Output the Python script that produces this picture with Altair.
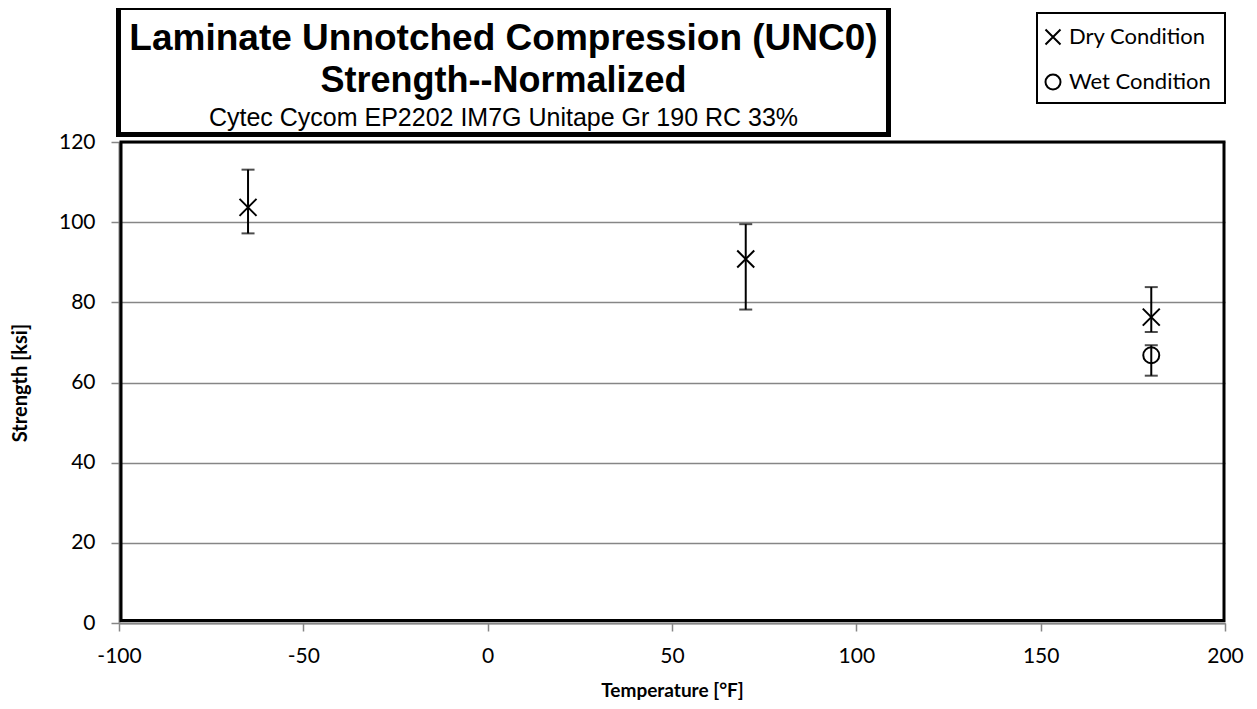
import altair as alt
import pandas as pd

# ---- data ----
dry_temp = [-65, 70, 180]
dry_strength = [103.7, 90.8, 76.3]
dry_low = [97.2, 78.2, 72.6]
dry_high = [113.1, 99.5, 83.8]

wet_temp = [180]
wet_strength = [66.8]
wet_low = [61.7]
wet_high = [69.3]

x_ticks = [-100, -50, 0, 50, 100, 150, 200]
y_ticks = [0, 20, 40, 60, 80, 100, 120]

title_lines = ["Laminate Unnotched Compression (UNC0)", "Strength--Normalized"]
subtitle = "Cytec Cycom EP2202 IM7G Unitape Gr 190 RC 33%"
legend_labels = ["Dry Condition", "Wet Condition"]

rows = []
for t, s, lo, hi in zip(dry_temp, dry_strength, dry_low, dry_high):
    rows.append({"temp": t, "strength": s, "low": lo, "high": hi, "cond": "Dry"})
for t, s, lo, hi in zip(wet_temp, wet_strength, wet_low, wet_high):
    rows.append({"temp": t, "strength": s, "low": lo, "high": hi, "cond": "Wet"})
df = pd.DataFrame(rows)

W, H = 1106, 481
GRAY = "#868686"
LABEL_FONT = "Lato"
TITLE_FONT = "Liberation Sans"

xscale = alt.Scale(domain=[-100, 200], nice=False, zero=False)
yscale = alt.Scale(domain=[0, 120], nice=False)

xenc = alt.X("temp:Q", scale=xscale, axis=alt.Axis(
    values=x_ticks, labelExpr="'' + datum.value", grid=False, labelFlush=False,
    title="Temperature [°F]", titleFont=LABEL_FONT, titleFontSize=19, titleFontWeight="bold",
    titleX=W / 2, titleY=67, titleBaseline="middle", titleAnchor="middle",
    labelFont=LABEL_FONT, labelFontSize=21, labelColor="black", labelPadding=14,
    tickSize=8, tickColor=GRAY, tickWidth=1.5, domainColor=GRAY, domainWidth=2,
    titleColor="black"))
yenc = alt.Y("strength:Q", scale=yscale, axis=alt.Axis(
    values=y_ticks, grid=True, gridColor=GRAY, gridWidth=1.5, labelFlush=False,
    title="Strength [ksi]", titleFont=LABEL_FONT, titleFontSize=20, titleFontWeight="bold",
    titleX=-99, titleY=H / 2, titleAngle=-90, titleBaseline="middle", titleAlign="center",
    labelFont=LABEL_FONT, labelFontSize=21, labelColor="black", labelPadding=16,
    tickSize=8, tickColor=GRAY, tickWidth=1.5, domainColor=GRAY, domainWidth=2,
    titleColor="black"))

base = alt.Chart(df)

bars = base.mark_rule(color="black", strokeWidth=2).encode(
    x=xenc, y=alt.Y("low:Q", scale=yscale), y2="high:Q")
caps_lo = base.mark_tick(color="black", orient="horizontal", size=13, thickness=2).encode(
    x=alt.X("temp:Q", scale=xscale), y=alt.Y("low:Q", scale=yscale))
caps_hi = base.mark_tick(color="black", orient="horizontal", size=13, thickness=2).encode(
    x=alt.X("temp:Q", scale=xscale), y=alt.Y("high:Q", scale=yscale))

XSHAPE = "M-1,-1L1,1M-1,1L1,-1"
dry_pts = base.transform_filter("datum.cond == 'Dry'").mark_point(
    shape=XSHAPE, size=289, filled=False, color="black", strokeWidth=2, opacity=1).encode(
    x=alt.X("temp:Q", scale=xscale), y=yenc)
wet_pts = base.transform_filter("datum.cond == 'Wet'").mark_point(
    shape="circle", size=256, filled=False, color="black", strokeWidth=2, opacity=1).encode(
    x=alt.X("temp:Q", scale=xscale), y=alt.Y("strength:Q", scale=yscale))

one = alt.Chart(pd.DataFrame({"k": [0]}))

border = one.mark_rect(fill=None, stroke="black", strokeWidth=3).encode(
    x=alt.value(2), x2=alt.value(W - 1), y=alt.value(0), y2=alt.value(H - 2.5))

title_box = one.mark_rect(fill="white", stroke="black", strokeWidth=5).encode(
    x=alt.value(-0.5), x2=alt.value(769.5), y=alt.value(-134.5), y2=alt.value(-7.5))
t1 = one.mark_text(text=title_lines[0], font=TITLE_FONT, fontSize=37, fontWeight="bold",
                   align="center", baseline="middle", color="black").encode(
    x=alt.value(384.5), y=alt.value(-103))
t2 = one.mark_text(text=title_lines[1], font=TITLE_FONT, fontSize=36, fontWeight="bold",
                   align="center", baseline="middle", color="black").encode(
    x=alt.value(384.5), y=alt.value(-61))
t3 = one.mark_text(text=subtitle, font=TITLE_FONT, fontSize=25,
                   align="center", baseline="middle", color="black").encode(
    x=alt.value(384.5), y=alt.value(-24))

leg_df = pd.DataFrame({"label": legend_labels, "ypos": [-105, -60], "cond": ["Dry", "Wet"]})
leg = alt.Chart(leg_df)
leg_box = one.mark_rect(fill="white", stroke="black", strokeWidth=2).encode(
    x=alt.value(918), x2=alt.value(1106), y=alt.value(-129), y2=alt.value(-39))
leg_text = leg.mark_text(font=LABEL_FONT, fontSize=22, align="left", baseline="middle",
                         color="black").encode(
    x=alt.value(950), y=alt.Y("ypos:Q", scale=None), text="label:N")
leg_x = leg.transform_filter("datum.cond == 'Dry'").mark_point(
    shape=XSHAPE, size=225, filled=False, color="black", strokeWidth=2, opacity=1).encode(
    x=alt.value(934), y=alt.Y("ypos:Q", scale=None))
leg_o = leg.transform_filter("datum.cond == 'Wet'").mark_point(
    shape="circle", size=225, filled=False, color="black", strokeWidth=2, opacity=1).encode(
    x=alt.value(934), y=alt.Y("ypos:Q", scale=None))

chart = alt.layer(
    bars, caps_lo, caps_hi, dry_pts, wet_pts, border,
    title_box, t1, t2, t3, leg_box, leg_text, leg_x, leg_o
).resolve_scale(y="shared").properties(
    width=W, height=H,
    autosize=alt.AutoSizeParams(type="none"),
    padding={"left": 111, "top": 134, "right": 22, "bottom": 78},
    background="white",
).configure_view(stroke=None)

chart.save("out.html", embed_options={"renderer": "svg", "actions": False})
